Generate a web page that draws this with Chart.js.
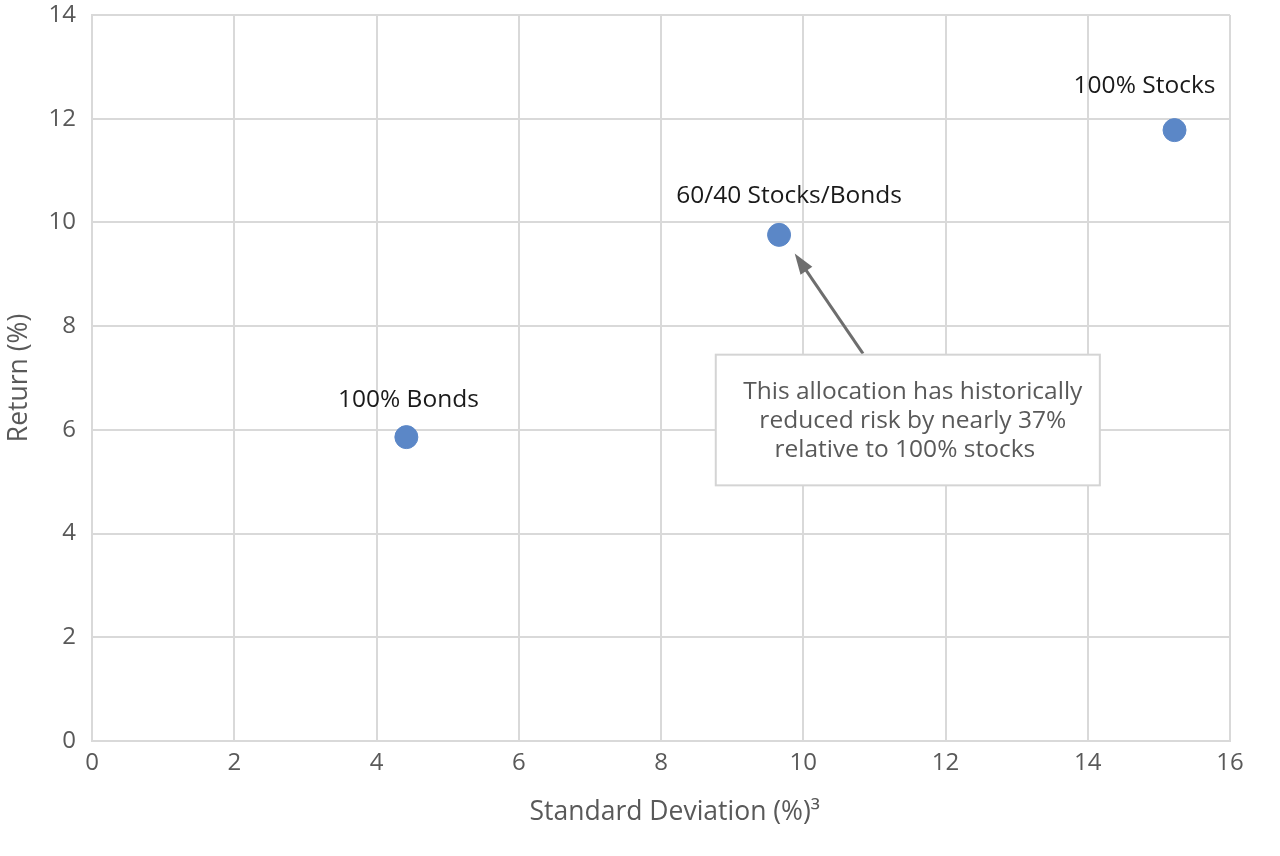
<!DOCTYPE html>
<html>
<head>
<meta charset="utf-8">
<script src="https://cdn.jsdelivr.net/npm/chart.js@4.4.1/dist/chart.umd.min.js"></script>
<style>
  html, body { margin: 0; padding: 0; background: #ffffff; }
  #wrap { width: 1280px; height: 856px; }
</style>
</head>
<body>
<div id="wrap"><canvas id="riskChart" width="1280" height="856"></canvas></div>
<script>
// Portfolio data
const portfolios = ['100% Bonds', '60/40 Stocks/Bonds', '100% Stocks']
const stdDev = [4.42, 9.66, 15.22]
const returns = [5.86, 9.76, 11.78]
const xTicks = [0, 2, 4, 6, 8, 10, 12, 14, 16]
const yTicks = [0, 2, 4, 6, 8, 10, 12, 14]
const noteLines = [
  'This allocation has historically',
  'reduced risk by nearly 37%',
  'relative to 100% stocks'
]

const FONT = "'Open Sans', 'Noto Sans', sans-serif"
const gridColor = '#d9d9d9'
const tickColor = '#595959'

// Labels above each point, plus the callout box with its arrow
const annotations = {
  id: 'annotations',
  afterDatasetsDraw(chart) {
    const c = chart.ctx
    const xs = chart.scales.x
    const ys = chart.scales.y
    const meta = chart.getDatasetMeta(0)
    const labelShift = [[2, -37], [10, -39], [-30, -44]]

    c.save()
    c.font = '24.5px ' + FONT
    c.fillStyle = '#1a1a1a'
    c.textAlign = 'center'
    c.textBaseline = 'middle'
    meta.data.forEach((pt, i) => {
      c.fillText(portfolios[i], pt.x + labelShift[i][0], pt.y + labelShift[i][1])
    })

    // arrow from the box toward the 60/40 point
    const x0 = xs.getPixelForValue(10.84)
    const y0 = ys.getPixelForValue(7.47)
    const x1 = xs.getPixelForValue(9.88)
    const y1 = ys.getPixelForValue(9.4)
    const ang = Math.atan2(y1 - y0, x1 - x0)
    const head = 22
    c.strokeStyle = '#6e6e6e'
    c.fillStyle = '#6e6e6e'
    c.lineWidth = 3
    c.beginPath()
    c.moveTo(x0, y0)
    c.lineTo(x1 - Math.cos(ang) * head * 0.8, y1 - Math.sin(ang) * head * 0.8)
    c.stroke()
    c.beginPath()
    c.moveTo(x1, y1)
    c.lineTo(x1 - head * Math.cos(ang - 0.33), y1 - head * Math.sin(ang - 0.33))
    c.lineTo(x1 - head * Math.cos(ang + 0.33), y1 - head * Math.sin(ang + 0.33))
    c.closePath()
    c.fill()

    // callout box
    const bl = xs.getPixelForValue(8.77)
    const br = xs.getPixelForValue(14.17)
    const bt = ys.getPixelForValue(7.45)
    const bb = ys.getPixelForValue(4.93)
    c.fillStyle = '#ffffff'
    c.fillRect(bl, bt, br - bl, bb - bt)
    c.strokeStyle = '#d4d4d4'
    c.lineWidth = 2
    c.strokeRect(bl, bt, br - bl, bb - bt)

    c.fillStyle = tickColor
    c.font = '24.5px ' + FONT
    const cx = (bl + br) / 2 + 5
    const shifts = [0, 0, -8]
    noteLines.forEach((line, i) => {
      c.fillText(line, cx + shifts[i], bt + 37 + i * 29)
    })
    c.restore()
  }
}

function drawChart() {
  const ctx = document.getElementById('riskChart').getContext('2d')
  new Chart(ctx, {
    type: 'scatter',
    data: {
      datasets: [
        {
          label: 'Portfolios',
          data: stdDev.map((x, i) => ({ x: x, y: returns[i] })),
          backgroundColor: '#5b87c7',
          borderColor: '#5b87c7',
          pointRadius: 11.5,
          pointHoverRadius: 11.5
        }
      ]
    },
    options: {
      responsive: false,
      animation: false,
      layout: {
        padding: { left: 0, top: 15, right: 50, bottom: 0 }
      },
      plugins: {
        legend: { display: false },
        tooltip: { enabled: false }
      },
      scales: {
        x: {
          type: 'linear',
          min: 0,
          max: 16,
          afterBuildTicks: (scale) => {
            scale.ticks = xTicks.map((v) => ({ value: v }))
          },
          afterFit: (scale) => {
            scale.height = 115
            scale.paddingLeft = 0
            scale.paddingRight = 0
          },
          grid: { color: gridColor, lineWidth: 2, drawTicks: false },
          border: { color: gridColor, width: 2 },
          ticks: {
            color: tickColor,
            font: { family: FONT, size: 24 },
            padding: 8,
            maxRotation: 0
          },
          title: {
            display: true,
            text: '    Standard Deviation (%)³',
            color: tickColor,
            font: { family: FONT, size: 26.5 },
            padding: { top: 0, bottom: 28 }
          }
        },
        y: {
          type: 'linear',
          min: 0,
          max: 14,
          afterBuildTicks: (scale) => {
            scale.ticks = yTicks.map((v) => ({ value: v }))
          },
          afterFit: (scale) => {
            scale.width = 92
            scale.paddingTop = 0
            scale.paddingBottom = 0
          },
          grid: { color: gridColor, lineWidth: 2, drawTicks: false },
          border: { color: gridColor, width: 2 },
          ticks: {
            color: tickColor,
            font: { family: FONT, size: 24 },
            padding: 16
          },
          title: {
            display: true,
            text: 'Return (%)',
            color: tickColor,
            font: { family: FONT, size: 26.5 },
            padding: { top: 4, bottom: 0 }
          }
        }
      }
    },
    plugins: [annotations]
  })
}

// make sure Open Sans is ready before the canvas text is drawn
Promise.all([
  document.fonts.load('24px "Open Sans"'),
  document.fonts.load('26.5px "Open Sans"')
]).then(drawChart, drawChart)
</script>
</body>
</html>
